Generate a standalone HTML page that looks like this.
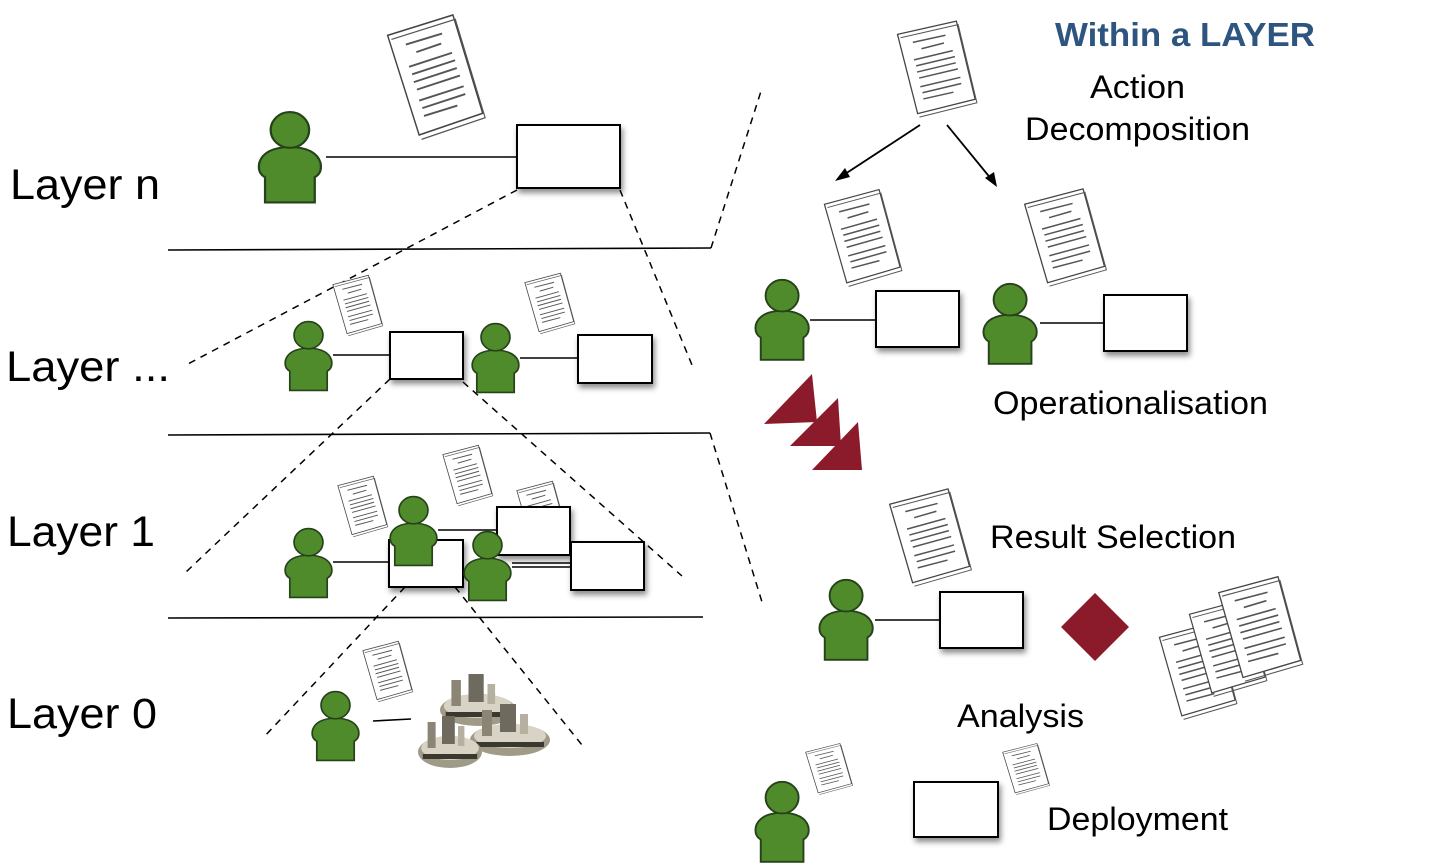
<!DOCTYPE html>
<html><head><meta charset="utf-8"><style>
html,body{margin:0;padding:0;background:#fff;}
svg{display:block;font-family:"Liberation Sans",sans-serif;}
</style></head><body>
<svg width="1437" height="868" viewBox="0 0 1437 868" xmlns="http://www.w3.org/2000/svg">
<defs>
<filter id="sh" x="-20%" y="-20%" width="150%" height="160%"><feDropShadow dx="2" dy="4" stdDeviation="3" flood-color="#000" flood-opacity="0.45"/></filter>
<g id="p">
<path d="M8,88 L8,64 Q1,60 3,50 Q7,36 30,35 Q53,36 57,50 Q59,60 52,64 L52,88 Z" fill="#4f8b2b" stroke="#26421a" stroke-width="2"/>
<circle cx="30" cy="19" r="17" fill="#4f8b2b" stroke="#26421a" stroke-width="2"/>
</g>
<g id="d">
<path d="M3,4 L50,0 L56,64 L10,69 Z" fill="#fff" stroke="#444" stroke-width="1"/>
<path d="M5,7 L51,3 L57,67 L11,72" fill="none" stroke="#555" stroke-width="0.8"/>
<g stroke="#555" stroke-width="1.2">
<line x1="14" y1="12" x2="40" y2="10"/><line x1="20" y1="18" x2="38" y2="16"/>
<line x1="13" y1="26" x2="44" y2="23"/><line x1="14" y1="31" x2="45" y2="28"/><line x1="14" y1="36" x2="45" y2="33"/><line x1="15" y1="41" x2="46" y2="38"/>
<line x1="15" y1="48" x2="47" y2="45"/><line x1="16" y1="53" x2="47" y2="50"/><line x1="16" y1="58" x2="40" y2="56"/>
</g>
</g>
<g id="r">
<ellipse cx="40" cy="40" rx="40" ry="16" fill="#a09a88"/>
<ellipse cx="40" cy="36" rx="36" ry="12" fill="#d8d3c4"/>
<rect x="12" y="10" width="10" height="26" fill="#8a8575"/>
<rect x="30" y="4" width="16" height="28" fill="#6e6a5e"/>
<rect x="50" y="14" width="8" height="20" fill="#b5b0a0"/>
<rect x="6" y="42" width="68" height="5" fill="#3a382f"/>
</g>
</defs>

<g stroke="#000" stroke-width="1.6" fill="none">
<line x1="168" y1="250" x2="711" y2="248"/>
<line x1="168" y1="435" x2="710" y2="433"/>
<line x1="168" y1="618" x2="703" y2="617"/>
</g>
<g stroke="#000" stroke-width="1.5" fill="none" stroke-dasharray="7,6">
<line x1="711" y1="248" x2="762" y2="88"/>
<line x1="710" y1="433" x2="762" y2="602"/>
<line x1="517" y1="190" x2="186" y2="365"/>
<line x1="620" y1="190" x2="692" y2="365"/>
<line x1="390" y1="379" x2="186" y2="572"/>
<line x1="463" y1="382" x2="682" y2="576"/>
<line x1="405" y1="587" x2="263" y2="738"/>
<line x1="455" y1="587" x2="582" y2="745"/>
</g>
<g stroke="#000" stroke-width="1.6">
<line x1="326" y1="157" x2="517" y2="157"/>
<line x1="333" y1="355" x2="390" y2="355"/>
<line x1="520" y1="358" x2="578" y2="358"/>
<line x1="333" y1="562" x2="389" y2="562"/>
<line x1="438" y1="530" x2="497" y2="530"/>
<line x1="512" y1="563" x2="571" y2="563"/>
<line x1="512" y1="567" x2="571" y2="567"/>
<line x1="373" y1="721" x2="411" y2="719"/>
<line x1="810" y1="320" x2="876" y2="320"/>
<line x1="1040" y1="323" x2="1104" y2="323"/>
<line x1="875" y1="620" x2="940" y2="620"/>
</g>

<use href="#d" transform="translate(382,30) rotate(-12) scale(1.45,1.6)"/>
<use href="#d" transform="translate(893,30) rotate(-8) scale(1.28,1.25)"/>
<use href="#d" transform="translate(820,200) rotate(-10) scale(1.2,1.25)"/>
<use href="#d" transform="translate(1020,200) rotate(-10) scale(1.28,1.25)"/>
<use href="#d" transform="translate(330,282) rotate(-10) scale(0.78,0.78)"/>
<use href="#d" transform="translate(522,280) rotate(-10) scale(0.78,0.78)"/>
<use href="#d" transform="translate(440,452) rotate(-10) scale(0.78,0.78)"/>
<use href="#d" transform="translate(335,483) rotate(-10) scale(0.78,0.78)"/>
<use href="#d" transform="translate(514,488) rotate(-10) scale(0.78,0.78)"/>
<use href="#d" transform="translate(360,648) rotate(-10) scale(0.78,0.78)"/>
<use href="#d" transform="translate(885,500) rotate(-10) scale(1.28,1.25)"/>
<use href="#d" transform="translate(1155,633) rotate(-10) scale(1.2,1.25)"/>
<use href="#d" transform="translate(1185,610) rotate(-10) scale(1.2,1.25)"/>
<use href="#d" transform="translate(1214,588) rotate(-10) scale(1.3,1.35)"/>
<use href="#d" transform="translate(803,750) rotate(-10) scale(0.75,0.65)"/>
<use href="#d" transform="translate(1000,750) rotate(-10) scale(0.75,0.65)"/>

<g fill="#fff" stroke="#000" stroke-width="2" filter="url(#sh)">
<rect x="517" y="125" width="103" height="63"/>
<rect x="390" y="332" width="73" height="47"/>
<rect x="578" y="335" width="74" height="48"/>
<rect x="497" y="507" width="73" height="48"/>
<rect x="389" y="540" width="74" height="47"/>
<rect x="571" y="542" width="73" height="48"/>
<rect x="876" y="291" width="83" height="56"/>
<rect x="1104" y="295" width="83" height="56"/>
<rect x="940" y="592" width="83" height="56"/>
<rect x="914" y="782" width="84" height="55"/>
</g>

<use href="#p" transform="translate(256,110) scale(1.13,1.05)"/>
<use href="#p" transform="translate(283,320) scale(0.85,0.8)"/>
<use href="#p" transform="translate(470,322) scale(0.85,0.8)"/>
<use href="#p" transform="translate(283,527) scale(0.85,0.8)"/>
<use href="#p" transform="translate(388,495) scale(0.85,0.8)"/>
<use href="#p" transform="translate(462,530) scale(0.85,0.8)"/>
<use href="#p" transform="translate(310,690) scale(0.85,0.8)"/>
<use href="#p" transform="translate(753,278) scale(0.97,0.93)"/>
<use href="#p" transform="translate(981,282) scale(0.97,0.93)"/>
<use href="#p" transform="translate(817,578) scale(0.97,0.93)"/>
<use href="#p" transform="translate(753,780) scale(0.97,0.93)"/>

<use href="#r" transform="translate(440,670) scale(0.95,1)"/>
<use href="#r" transform="translate(470,700)"/>
<use href="#r" transform="translate(418,712) scale(0.8,1)"/>

<g stroke="#000" stroke-width="1.8">
<line x1="920" y1="125" x2="842" y2="176"/>
<line x1="947" y1="125" x2="992" y2="180"/>
</g>
<polygon points="835,181 845,168 850,177" fill="#000"/>
<polygon points="997,187 985,178 994,172" fill="#000"/>

<g fill="#8b1a2a">
<polygon points="764,424 812,374 817,422"/>
<polygon points="790,446 838,398 841,446"/>
<polygon points="812,470 858,422 862,470"/>
<polygon points="1095,593 1129,627 1095,661 1061,627"/>
</g>

<text x="1055" y="46" font-size="33" font-weight="bold" fill="#2e5580" textLength="260" lengthAdjust="spacingAndGlyphs">Within a LAYER</text>
<g font-size="32" fill="#000">
<text x="1090" y="98" textLength="95" lengthAdjust="spacingAndGlyphs">Action</text>
<text x="1025" y="140" textLength="225" lengthAdjust="spacingAndGlyphs">Decomposition</text>
<text x="993" y="414" textLength="275" lengthAdjust="spacingAndGlyphs">Operationalisation</text>
<text x="990" y="548" textLength="246" lengthAdjust="spacingAndGlyphs">Result Selection</text>
<text x="957" y="727" textLength="127" lengthAdjust="spacingAndGlyphs">Analysis</text>
<text x="1047" y="830" textLength="181" lengthAdjust="spacingAndGlyphs">Deployment</text>
</g>
<g font-size="43" fill="#000">
<text x="10" y="199" textLength="150" lengthAdjust="spacingAndGlyphs">Layer n</text>
<text x="6" y="381" textLength="164" lengthAdjust="spacingAndGlyphs">Layer ...</text>
<text x="7" y="546" textLength="148" lengthAdjust="spacingAndGlyphs">Layer 1</text>
<text x="7" y="728" textLength="150" lengthAdjust="spacingAndGlyphs">Layer 0</text>
</g>
</svg>
</body></html>
